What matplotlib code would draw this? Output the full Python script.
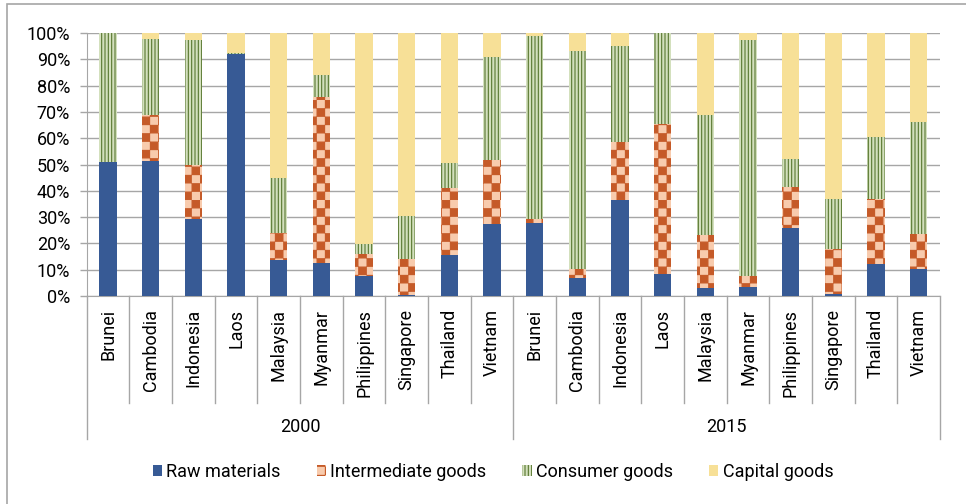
import warnings
import numpy as np
import matplotlib
matplotlib.use("Agg")
import matplotlib.pyplot as plt
import matplotlib.hatch as mhatch
from matplotlib.path import Path
from matplotlib.patches import Patch, Rectangle
from matplotlib.lines import Line2D

warnings.filterwarnings("ignore")

# ---------------- data ----------------
countries = ["Brunei", "Cambodia", "Indonesia", "Laos", "Malaysia", "Myanmar",
             "Philippines", "Singapore", "Thailand", "Vietnam"]
years = ["2000", "2015"]
series_names = ["Raw materials", "Intermediate goods", "Consumer goods", "Capital goods"]

# shares in %, order: 2000 countries then 2015 countries
raw_materials = [51.1, 51.4, 29.4, 92.0, 13.8, 12.6, 7.7, 0.4, 15.5, 27.2,
                 27.7, 7.0, 36.4, 8.4, 3.0, 3.6, 26.0, 0.6, 12.1, 10.3]
intermediate_goods = [0.0, 17.5, 20.5, 0.0, 10.1, 63.2, 8.2, 13.6, 25.5, 24.7,
                      1.5, 3.3, 22.1, 57.1, 20.2, 4.1, 15.6, 17.2, 24.8, 13.4]
consumer_goods = [48.9, 28.9, 47.3, 0.3, 21.0, 8.3, 4.0, 16.5, 9.5, 39.0,
                  69.5, 83.0, 36.4, 34.5, 45.7, 89.5, 10.6, 19.0, 23.5, 42.5]
capital_goods = [0.0, 2.2, 2.8, 7.7, 55.1, 15.9, 80.1, 69.5, 49.5, 9.1,
                 1.3, 6.7, 5.1, 0.0, 31.1, 2.8, 47.8, 63.2, 39.6, 33.8]

# ---------------- custom checkerboard hatch ----------------
class CheckerHatch(mhatch.HatchPatternBase):
    filled = True

    def __init__(self, hatch, density):
        self.n = int(hatch.count('*') * density * 2)
        self.num_vertices = (self.n * self.n // 2) * 5 if self.n else 0

    def set_vertices_and_codes(self, vertices, codes):
        s = 1.0 / self.n
        inset = 0.004
        k = 0
        for i in range(self.n):
            for j in range(self.n):
                if (i + j) % 2 == 0:
                    x0, y0 = i * s + inset, j * s + inset
                    x1, y1 = (i + 1) * s - inset, (j + 1) * s - inset
                    vertices[k:k + 5] = [(x0, y0), (x1, y0), (x1, y1), (x0, y1), (x0, y0)]
                    codes[k:k + 5] = [Path.MOVETO, Path.LINETO, Path.LINETO,
                                      Path.LINETO, Path.CLOSEPOLY]
                    k += 5


mhatch._hatch_types = [t for t in mhatch._hatch_types if t is not mhatch.Stars] + [CheckerHatch]

# ---------------- style ----------------
plt.rcParams['font.family'] = ['Roboto', 'DejaVu Sans']
plt.rcParams['hatch.linewidth'] = 0.8
FS = 13
grid_c = '#a6a6a6'

styles = [
    dict(facecolor='#375a95', edgecolor='#375a95', hatch=None),
    dict(facecolor='#f8cbad', edgecolor='#c55a28', hatch='*'),
    dict(facecolor='#d3e0bd', edgecolor='#58772f', hatch='|||||'),
    dict(facecolor='#f7e097', edgecolor='#f7e097', hatch=None),
]

fig = plt.figure(figsize=(9.66, 5.04), dpi=100)
ax = fig.add_axes([86.7 / 966, 1 - 296 / 504, (940 - 86.7) / 966, 263 / 504])

values = [np.array(raw_materials), np.array(intermediate_goods),
          np.array(consumer_goods), np.array(capital_goods)]
n = len(raw_materials)
x = np.arange(n)
bottom = np.zeros(n)
for vals, st in zip(values, styles):
    ax.bar(x, vals / 100.0, width=0.4, bottom=bottom, linewidth=0, zorder=3, **st)
    bottom += vals / 100.0

ax.set_xlim(-0.5, n - 0.5)
ax.set_ylim(0, 1)
ax.set_yticks(np.arange(0, 1.01, 0.1))
ax.set_yticklabels([f"{int(round(v * 100))}%" for v in np.arange(0, 1.01, 0.1)], fontsize=FS)
ax.yaxis.grid(True, color=grid_c, linewidth=1.0, zorder=0)
ax.set_axisbelow(True)
ax.tick_params(axis='y', direction='out', length=5, color=grid_c, width=1, pad=7)
ax.set_xticks([])
for side in ['top', 'right']:
    ax.spines[side].set_visible(False)
ax.spines['left'].set_color(grid_c)
ax.spines['bottom'].set_color(grid_c)

# category and group axis
trans = ax.get_xaxis_transform()
cat_depth = -(402.7 - 296) / 263
grp_depth = -(439 - 296) / 263
for b in np.arange(-0.5, n, 1.0):
    is_group = (b in (-0.5, 9.5, 19.5))
    ax.add_line(Line2D([b, b], [0, grp_depth if is_group else cat_depth],
                       transform=trans, color=grid_c, linewidth=1, clip_on=False))

labels = countries + countries
for xi, lab in zip(x, labels):
    ax.text(xi, -(309 - 296) / 263, lab, transform=trans, rotation=90,
            ha='center', va='top', fontsize=FS)
for gi, yr in enumerate(years):
    ax.text(gi * 10 + 4.5, -(427 - 296) / 263, yr, transform=trans,
            ha='center', va='center', fontsize=FS)

# legend
handles = [Patch(linewidth=0, **st) for st in styles]
fig.legend(handles, series_names, loc='center', bbox_to_anchor=(493 / 966, 1 - 472 / 504),
           ncol=4, frameon=False, fontsize=FS, handlelength=0.5, handleheight=0.55,
           handletextpad=0.25, columnspacing=2.0)

# figure border
fig.patches.append(Rectangle((7 / 966, -0.05), 1.2, 1 - 4 / 504 + 0.05,
                             transform=fig.transFigure, fill=False,
                             edgecolor=grid_c, linewidth=1.2, figure=fig))

fig.savefig("out.png", dpi=100)
